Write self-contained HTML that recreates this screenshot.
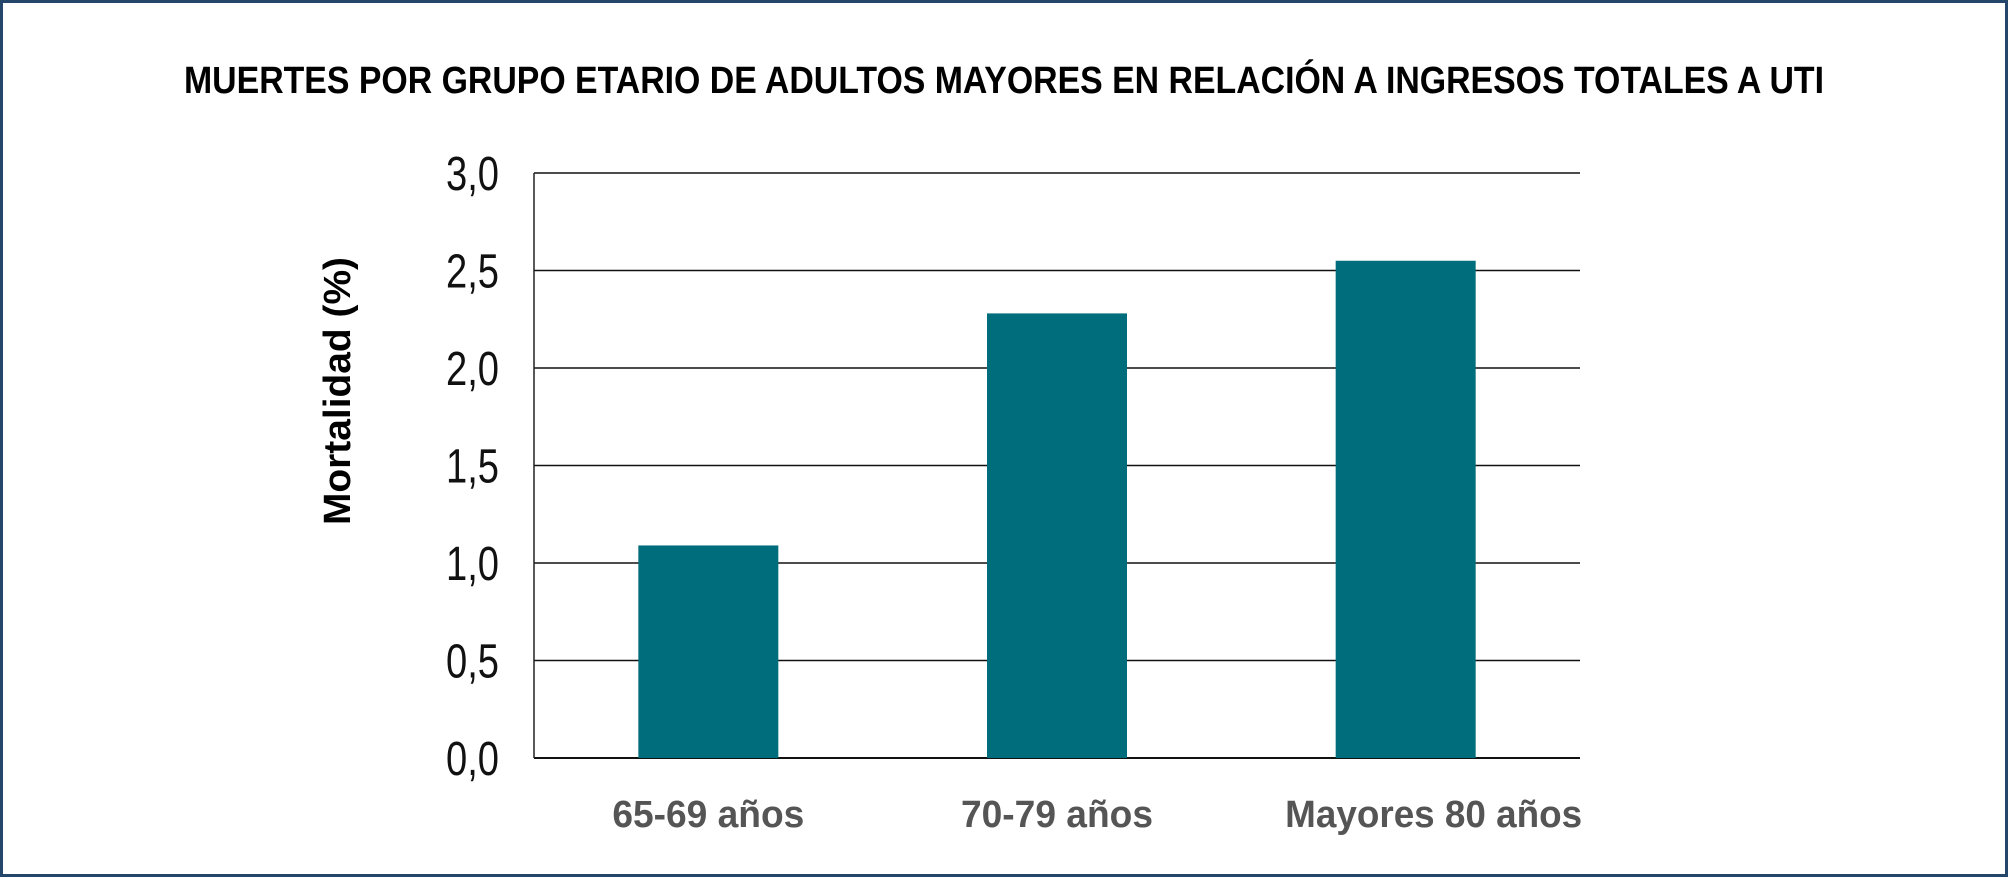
<!DOCTYPE html>
<html><head><meta charset="utf-8"><style>
html,body{margin:0;padding:0;background:#fff}
svg{display:block}
text{font-family:"Liberation Sans Narrow","Liberation Sans",sans-serif}
</style></head><body>
<svg width="2008" height="877" viewBox="0 0 2008 877">
<rect x="1.5" y="1.5" width="2005" height="874" fill="#fff" stroke="#24466a" stroke-width="3"/>
<text x="1004" y="93" text-anchor="middle" font-size="38" font-weight="bold" fill="#000" textLength="1640" lengthAdjust="spacingAndGlyphs">MUERTES POR GRUPO ETARIO DE ADULTOS MAYORES EN RELACIÓN A INGRESOS TOTALES A UTI</text>
<text transform="translate(350,391) rotate(-90)" text-anchor="middle" font-size="38" font-weight="bold" fill="#000" textLength="268" lengthAdjust="spacingAndGlyphs">Mortalidad (%)</text>
<g id="grid"></g><g id="bars"></g><g id="labels"></g>
<line x1="534" y1="173" x2="534" y2="758" stroke="#222" stroke-width="1.5"/>
</svg>
<script>
const categories=["65-69 años","70-79 años","Mayores 80 años"];
const values=[1.09,2.28,2.55];
const ticks=[0,0.5,1,1.5,2,2.5,3];
const tickLabels=["0,0","0,5","1,0","1,5","2,0","2,5","3,0"];
const ns="http://www.w3.org/2000/svg";
const L=534,R=1580,B=758,T=173,ymax=3;
const y=v=>B-(v/ymax)*(B-T);
const band=(R-L)/categories.length;
const x=i=>L+band*i+band/2;
const bw=140;
const labelLens=[192,192,297];
const labelShift=[0,0,28];
function mk(tag,attrs){const e=document.createElementNS(ns,tag);for(const k in attrs)e.setAttribute(k,attrs[k]);return e;}
const g=document.getElementById('grid'),gb=document.getElementById('bars'),gl=document.getElementById('labels');
ticks.forEach((t,i)=>{
  const ln=mk('line',{x1:L,x2:R,y1:y(t),y2:y(t),stroke:'#111','stroke-width':t===0?2:1.5});
  
  
  g.appendChild(ln);
  const tx=mk('text',{x:499,y:y(t)+17,'text-anchor':'end','font-size':48,fill:'#111',textLength:53,lengthAdjust:'spacingAndGlyphs'});
  tx.textContent=tickLabels[i];
  
  
  g.appendChild(tx);
});
values.forEach((v,i)=>{
  const r=mk('rect',{x:x(i)-bw/2,y:y(v),width:bw,height:B-y(v),fill:'#006d7c'});
  
  
  gb.appendChild(r);
  const tx=mk('text',{x:x(i)+labelShift[i],y:827,'text-anchor':'middle','font-size':38,'font-weight':'bold',fill:'#555',textLength:labelLens[i],lengthAdjust:'spacingAndGlyphs'});
  tx.textContent=categories[i];
  
  
  gl.appendChild(tx);
});
</script>
</body></html>
